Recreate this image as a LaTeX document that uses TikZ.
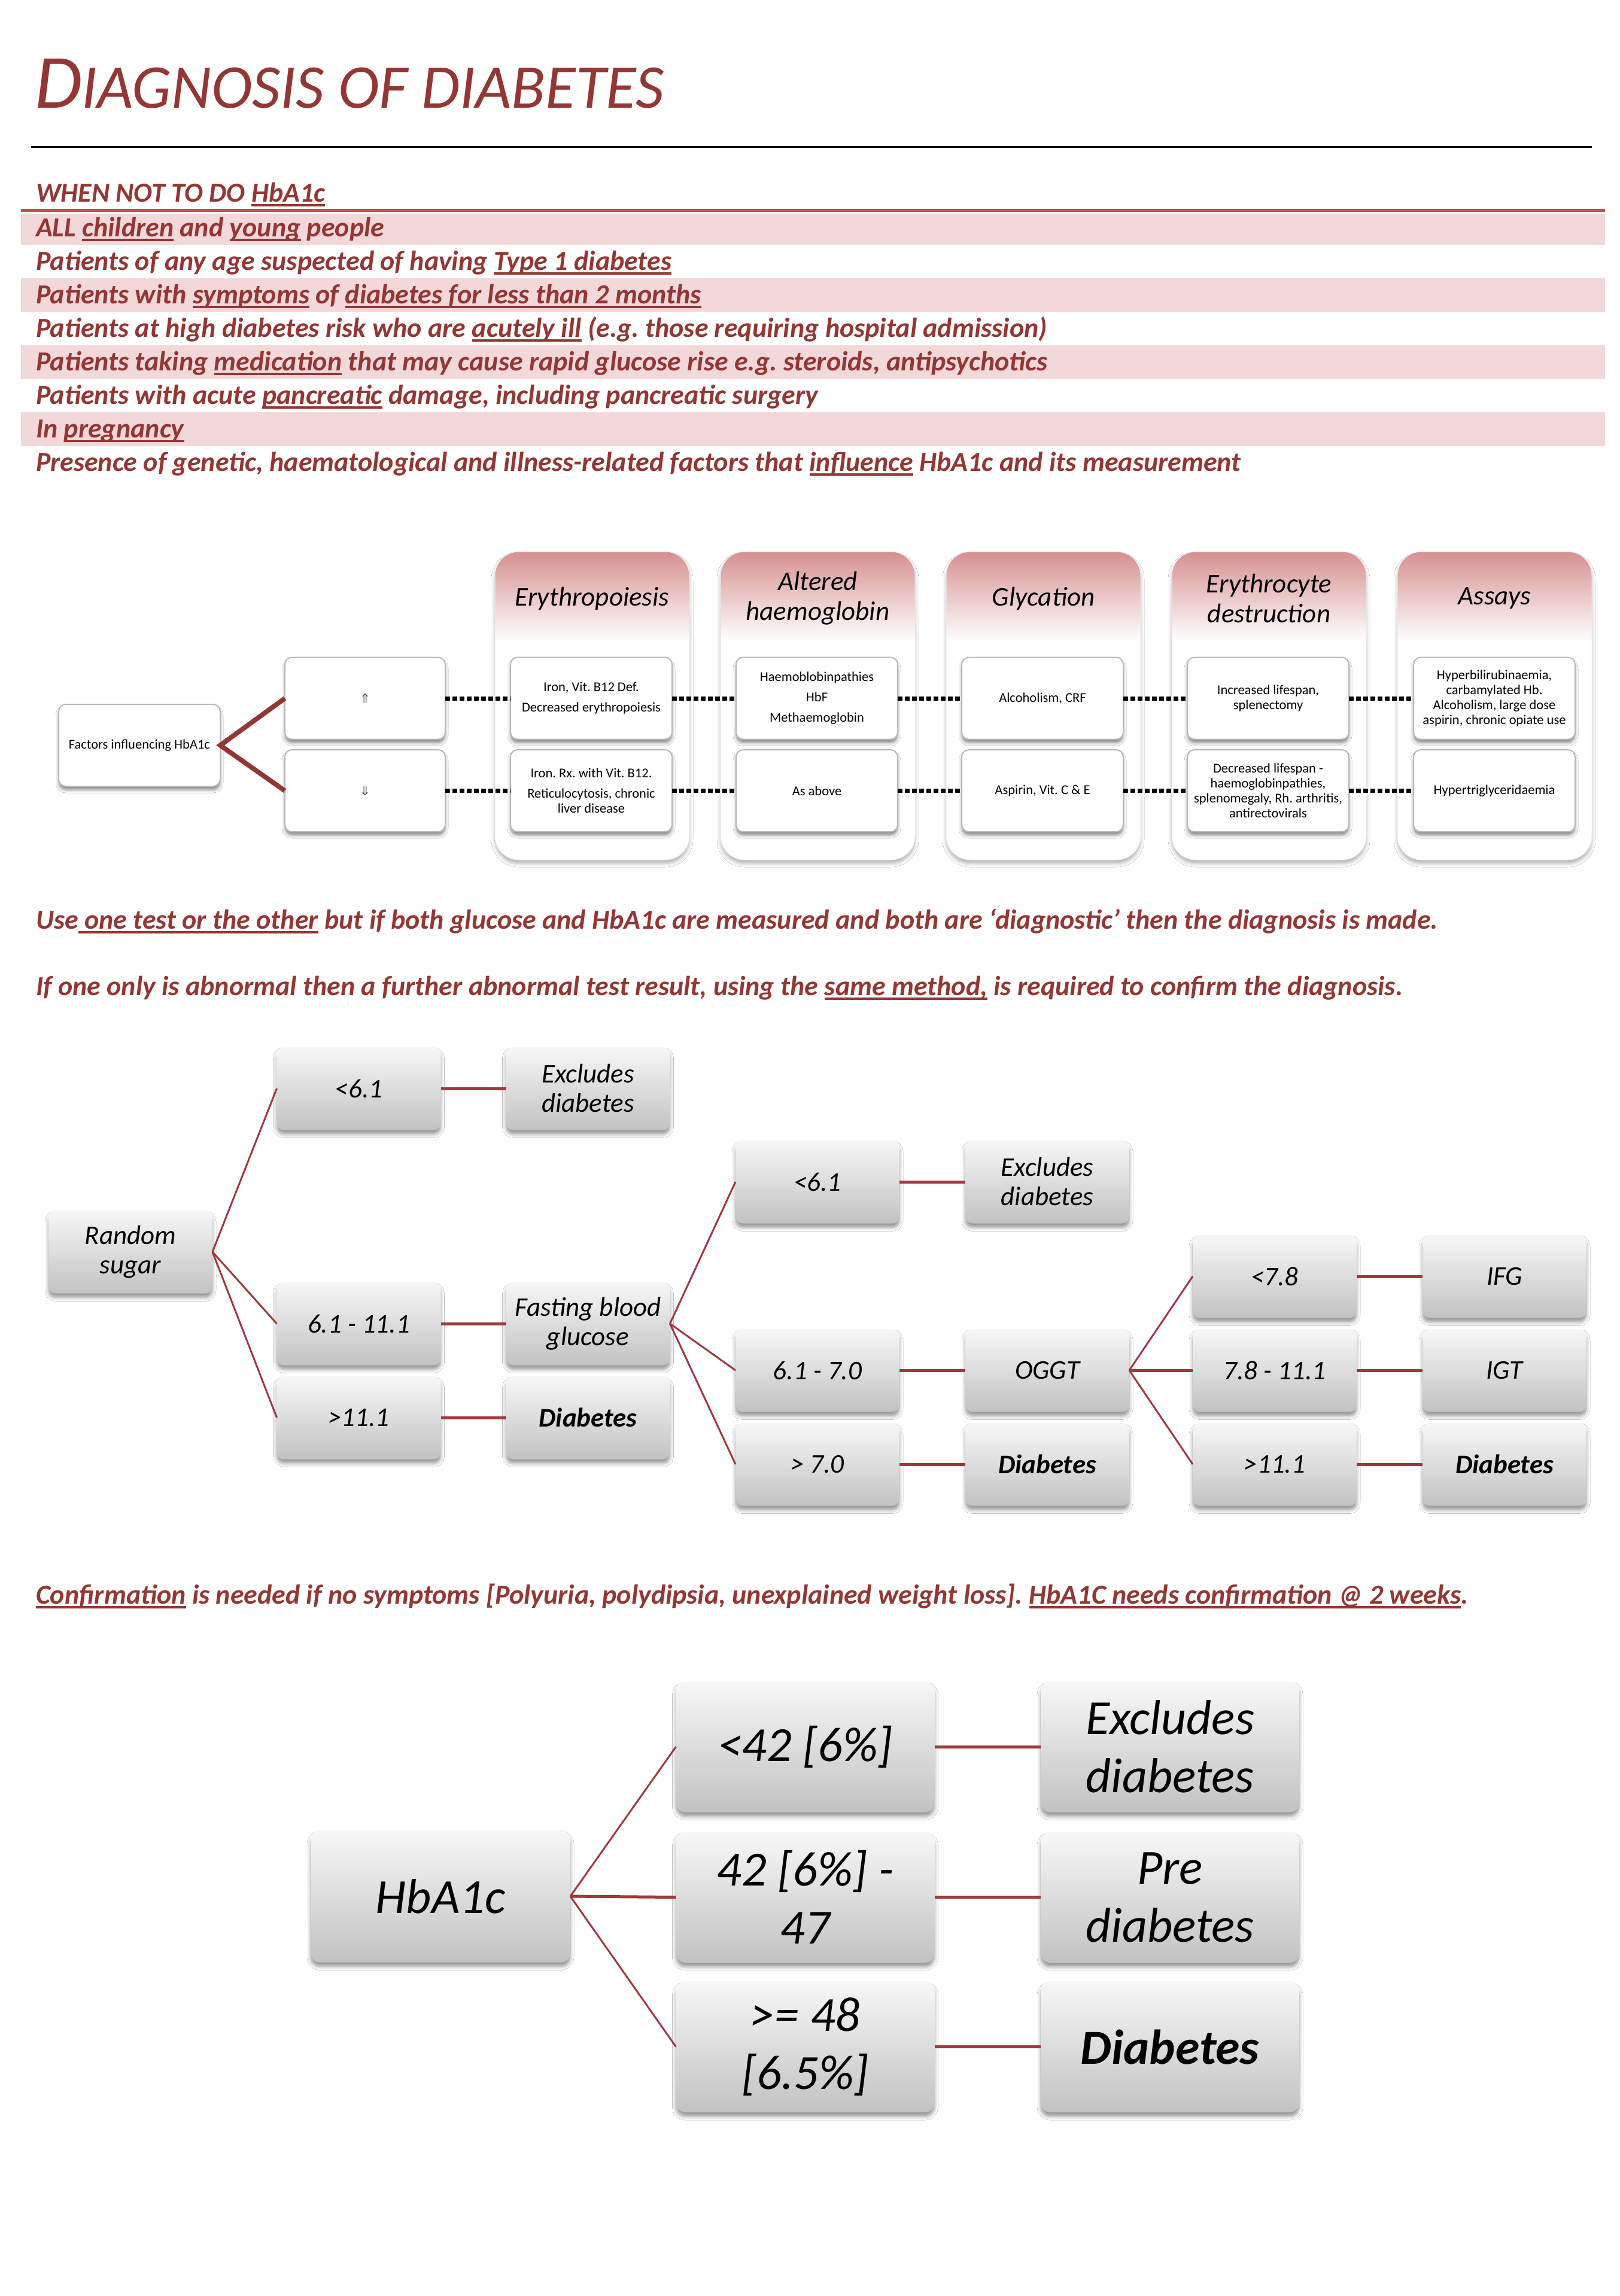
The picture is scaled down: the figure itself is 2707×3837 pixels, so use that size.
\documentclass[tikz,border=0pt]{standalone}
\usepackage{fontspec}
\setmainfont{Carlito}
\newfontfamily\dejavu{DejaVu Sans}
\usetikzlibrary{shadows,shadows.blur}
\definecolor{dred}{HTML}{943634}
\definecolor{lred}{HTML}{C0504D}
\definecolor{band}{HTML}{F2D8D9}
\definecolor{conn}{HTML}{A0393E}
\definecolor{colpink}{HTML}{D6908F}
\definecolor{gtop}{gray}{0.97}
\definecolor{gbot}{gray}{0.76}
\pgfdeclareverticalshading{colshade}{100bp}{color(0bp)=(white); color(60.5bp)=(white); color(75bp)=(colpink); color(100bp)=(colpink)}
\newcommand\fsz[2]{\fontsize{#1}{#2}\selectfont}
\newcommand\ulx[1]{\setbox0\hbox{#1}\rlap{\color{dred}\rule[-0.17em]{\wd0}{0.085em}}\box0\relax}
\frenchspacing
\begin{document}
\begin{tikzpicture}[x=1pt,y=-1pt,
  every node/.style={inner sep=0pt,outer sep=0pt},
  lst/.style={anchor=base west,text=dred,font=\fsz{46}{54}\bfseries\itshape},
  gbox/.style={rounded corners=12pt,minimum width=274pt,minimum height=139pt,top color=gtop,bottom color=gbot,align=center,font=\fsz{45}{49}\itshape,blur shadow={shadow xshift=0pt,shadow yshift=-7pt,shadow blur radius=6pt,shadow opacity=40}},
  hbox/.style={gbox,minimum width=432pt,minimum height=219pt,rounded corners=16pt,font=\fsz{82}{97}\itshape},
  colbox/.style={rounded corners=40pt,minimum width=325pt,minimum height=515pt,shading=colshade,draw=gray!15,line width=1pt,blur shadow={shadow xshift=0pt,shadow yshift=-6pt,shadow blur radius=6pt,shadow opacity=30}},
  chead/.style={align=center,font=\fsz{45}{50}\itshape},
  ibox/.style={rounded corners=12pt,minimum width=270pt,minimum height=137pt,fill=white,draw=gray!55,line width=2pt,align=center,font=\fsz{22.5}{25},blur shadow={shadow xshift=0pt,shadow yshift=-6pt,shadow blur radius=5pt,shadow opacity=45}},
  thinc/.style={draw=conn,line width=3pt},
  thickc/.style={draw=conn,line width=5pt},
  redc/.style={draw=dred,line width=8pt},
  dotc/.style={draw=black,line width=7pt,dash pattern=on 8pt off 4pt}
]
\useasboundingbox[fill=white] (0,0) rectangle (2707,3837);

% ---------- title ----------
\node[anchor=base west,text=dred,font=\itshape] (title) at (58,180) {{\fsz{128}{134}D}{\fsz{104}{110}IAGNOSIS OF DIABETES}};
\draw[line width=3pt] (52,245) -- (2660,245);

% ---------- table ----------
\fill[band] (35,357) rectangle (2682,409);
\fill[band] (35,465) rectangle (2682,521);
\fill[band] (35,577) rectangle (2682,633);
\fill[band] (35,689) rectangle (2682,745);
\draw[lred,line width=5pt] (35,351) -- (2682,351);
\node[lst] (l0) at (60,337) {WHEN NOT TO DO \ulx{HbA1c}};
\node[lst] (l1) at (60,395.5) {ALL \ulx{children} and \ulx{young} people};
\node[lst] (l2) at (60,451.5) {Patients of any age suspected of having \ulx{Type 1 diabetes}};
\node[lst] (l3) at (60,507.5) {Patients with \ulx{symptoms} of \ulx{diabetes for less than 2 months}};
\node[lst] (l4) at (60,563.5) {Patients at high diabetes risk who are \ulx{acutely ill} (e.g. those requiring hospital admission)};
\node[lst] (l5) at (60,619.5) {Patients taking \ulx{medication} that may cause rapid glucose rise e.g. steroids, antipsychotics};
\node[lst] (l6) at (60,675.5) {Patients with acute \ulx{pancreatic} damage, including pancreatic surgery};
\node[lst] (l7) at (60,731.5) {In \ulx{pregnancy}};
\node[lst] (l8) at (60,787.5) {Presence of genetic, haematological and illness-related factors that \ulx{influence} HbA1c and its measurement};

% ---------- factors ----------
\node[colbox] (col1) at (989.5,1179.5) {};
\node[colbox] (col2) at (1366.5,1179.5) {};
\node[colbox] (col3) at (1743.5,1179.5) {};
\node[colbox] (col4) at (2120.5,1179.5) {};
\node[colbox] (col5) at (2497.5,1179.5) {};
\node[chead] (h1) at (989.5,1000) {Erythropoiesis};
\node[chead] (h2) at (1366.5,1000) {Altered\\haemoglobin};
\node[chead] (h3) at (1743.5,1000) {Glycation};
\node[chead] (h4) at (2120.5,1000) {Erythrocyte\\destruction};
\node[chead] (h5) at (2497.5,1000) {Assays};

\node[ibox] (fac) at (233,1245.5) {Factors influencing HbA1c};
\node[ibox,minimum width=268pt,font=\dejavu\fsz{22}{24},text=gray!70!black] (up) at (610,1167) {⇑};
\node[ibox,minimum width=268pt,font=\dejavu\fsz{22}{24},text=gray!70!black] (dn) at (610,1321.5) {⇓};

\node[ibox] (t1) at (988,1167) {Iron, Vit. B12 Def.\\[9pt]Decreased erythropoiesis};
\node[ibox] (b1) at (988,1321.5) {Iron. Rx. with Vit. B12.\\[9pt]Reticulocytosis, chronic\\liver disease};
\node[ibox] (t2) at (1365,1167) {Haemoblobinpathies\\[9pt]HbF\\[9pt]Methaemoglobin};
\node[ibox] (b2) at (1365,1321.5) {As above};
\node[ibox] (t3) at (1742,1167) {Alcoholism, CRF};
\node[ibox] (b3) at (1742,1321.5) {Aspirin, Vit. C \& E};
\node[ibox] (t4) at (2119,1167) {Increased lifespan,\\splenectomy};
\node[ibox] (b4) at (2119,1321.5) {Decreased lifespan -\\haemoglobinpathies,\\splenomegaly, Rh. arthritis,\\antirectovirals};
\node[ibox] (t5) at (2497,1167) {Hyperbilirubinaemia,\\carbamylated Hb.\\Alcoholism, large dose\\aspirin, chronic opiate use};
\node[ibox] (b5) at (2497,1321.5) {Hypertriglyceridaemia};

\draw[redc] (up.west) -- (fac.east) -- (dn.west);
\draw[dotc] (up) -- (t1);
\draw[dotc] (t1) -- (t2);
\draw[dotc] (t2) -- (t3);
\draw[dotc] (t3) -- (t4);
\draw[dotc] (t4) -- (t5);
\draw[dotc] (dn) -- (b1);
\draw[dotc] (b1) -- (b2);
\draw[dotc] (b2) -- (b3);
\draw[dotc] (b3) -- (b4);
\draw[dotc] (b4) -- (b5);

% ---------- middle text ----------
\node[lst] (m1) at (60,1552) {Use\ulx{ one test or the other} but if both glucose and HbA1c are measured and both are `diagnostic' then the diagnosis is made.};
\node[lst] (m2) at (60,1663) {If one only is abnormal then a further abnormal test result, using the \ulx{same method,} is required to confirm the diagnosis.};

% ---------- glucose tree ----------
\node[gbox] (rs) at (218,2092) {Random\\sugar};
\node[gbox] (a1) at (599.5,1819) {<6.1};
\node[gbox] (b1x) at (982.5,1819) {Excludes\\diabetes};
\node[gbox] (a2) at (599.5,2212) {6.1 - 11.1};
\node[gbox] (fbg) at (982.5,2212) {Fasting blood\\glucose};
\node[gbox] (a3) at (599.5,2369) {>11.1};
\node[gbox,font=\fsz{45}{49}\bfseries\itshape] (b3x) at (982.5,2369) {Diabetes};
\node[gbox] (c1) at (1366,1975) {<6.1};
\node[gbox] (d1) at (1750,1975) {Excludes\\diabetes};
\node[gbox] (c2) at (1366,2290) {6.1 - 7.0};
\node[gbox] (ogtt) at (1750,2290) {OGGT};
\node[gbox] (c3) at (1366,2447) {> 7.0};
\node[gbox,font=\fsz{45}{49}\bfseries\itshape] (d3) at (1750,2447) {Diabetes};
\node[gbox] (e1) at (2130,2133) {<7.8};
\node[gbox] (f1) at (2514,2133) {IFG};
\node[gbox] (e2) at (2130,2290) {7.8 - 11.1};
\node[gbox] (f2) at (2514,2290) {IGT};
\node[gbox] (e3) at (2130,2447) {>11.1};
\node[gbox,font=\fsz{45}{49}\bfseries\itshape] (f3) at (2514,2447) {Diabetes};

\draw[thinc] (rs.east) -- (a1.west);
\draw[thinc] (rs.east) -- (a2.west);
\draw[thinc] (rs.east) -- (a3.west);
\draw[thickc] (a1) -- (b1x);
\draw[thickc] (a2) -- (fbg);
\draw[thickc] (a3) -- (b3x);
\draw[thinc] (fbg.east) -- (c1.west);
\draw[thinc] (fbg.east) -- (c2.west);
\draw[thinc] (fbg.east) -- (c3.west);
\draw[thickc] (c1) -- (d1);
\draw[thickc] (c2) -- (ogtt);
\draw[thickc] (c3) -- (d3);
\draw[thinc] (ogtt.east) -- (e1.west);
\draw[thickc] (ogtt.east) -- (e2.west);
\draw[thinc] (ogtt.east) -- (e3.west);
\draw[thickc] (e1) -- (f1);
\draw[thickc] (e2) -- (f2);
\draw[thickc] (e3) -- (f3);

% ---------- confirmation ----------
\node[lst] (cf) at (60,2680) {\ulx{Confirmation} is needed if no symptoms [Polyuria, polydipsia, unexplained weight loss]. \ulx{HbA1C needs confirmation @ 2 weeks}.};

% ---------- HbA1c tree ----------
\node[hbox,minimum width=434pt,minimum height=221pt] (hb) at (736,3169) {HbA1c};
\node[hbox] (g1) at (1345.5,2919) {<42 [6\%]};
\node[hbox] (g2) at (1345.5,3170.5) {42 [6\%] -\\47};
\node[hbox] (g3) at (1345.5,3420.5) {>= 48\\{}[6.5\%]};
\node[hbox] (k1) at (1955,2919) {Excludes\\diabetes};
\node[hbox] (k2) at (1955,3170.5) {Pre\\diabetes};
\node[hbox,font=\fsz{82}{97}\bfseries\itshape] (k3) at (1955,3420.5) {Diabetes};
\draw[thinc] (hb.east) -- (g1.west);
\draw[thickc] (hb.east) -- (g2.west);
\draw[thinc] (hb.east) -- (g3.west);
\draw[thickc] (g1) -- (k1);
\draw[thickc] (g2) -- (k2);
\draw[thickc] (g3) -- (k3);
\end{tikzpicture}
\end{document}
